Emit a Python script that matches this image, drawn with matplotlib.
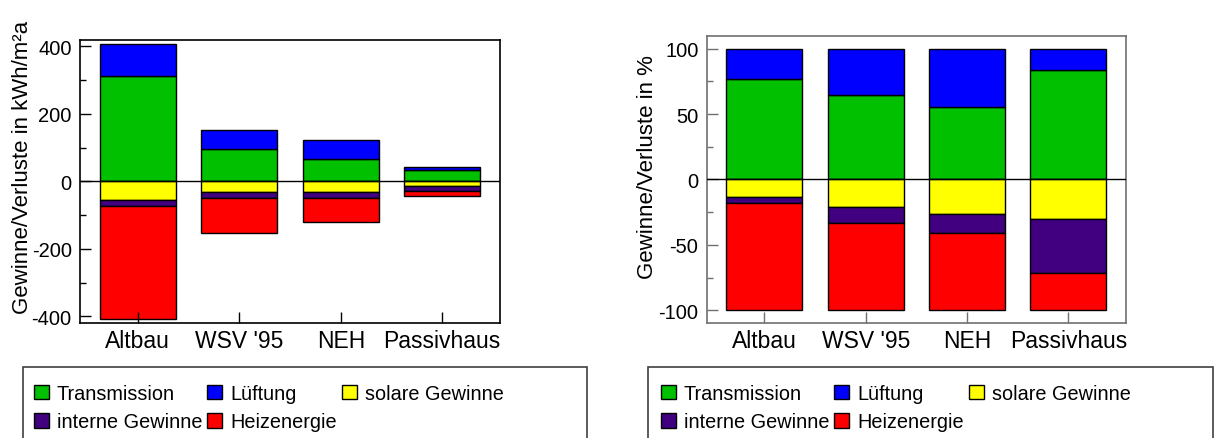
import numpy as np
import matplotlib
matplotlib.use("Agg")
import matplotlib.pyplot as plt
from matplotlib.patches import Rectangle, Patch

plt.rcParams['font.family'] = ['Liberation Sans', 'DejaVu Sans']
plt.rcParams['axes.unicode_minus'] = False

# --------------------------------------------------
# Data
# --------------------------------------------------

categories = ["Altbau", "WSV '95", "NEH", "Passivhaus"]

# absolute values in kWh/m²a (losses positive, gains negative)
transmission = [313, 97, 66, 35]
lueftung = [95, 54, 56, 7]
solar = [-55, -33, -33, -13]
intern = [-17, -17, -17, -17]
heizenergie = [-336, -102, -72, -13]

# shares in %
transmission_pct = [76.8, 64.4, 55.2, 83.5]
lueftung_pct = [23.2, 35.6, 44.8, 16.5]
solar_pct = [-13.2, -21.4, -26.7, -30.5]
intern_pct = [-4.6, -11.9, -14.3, -41.0]
heizenergie_pct = [-82.2, -66.7, -59.0, -28.5]

names = ["Transmission", "Lüftung", "solare Gewinne", "interne Gewinne", "Heizenergie"]
colors = ["#00c000", "#0000ff", "#ffff00", "#400080", "#ff0000"]


# --------------------------------------------------
# Helpers
# --------------------------------------------------

def stacked(ax, pos, neg, edge):
    x = np.arange(len(categories))
    w = 0.75

    bottom = np.zeros(len(x))
    for vals, c in pos:
        ax.bar(x, vals, w, bottom=bottom, color=c, edgecolor="black", lw=1)
        bottom += np.array(vals, dtype=float)

    bottom = np.zeros(len(x))
    for vals, c in neg:
        ax.bar(x, vals, w, bottom=bottom, color=c, edgecolor="black", lw=1)
        bottom += np.array(vals, dtype=float)

    ax.axhline(0, color="black", lw=1, zorder=3)

    ax.set_xticks(x)
    ax.set_xticklabels(categories, fontsize=16.5)
    ax.set_xlim(-0.57, 3.57)

    ax.tick_params(axis="x", direction="in", length=8, width=1, color=edge,
                   pad=4, top=False)
    ax.tick_params(axis="y", which="major", direction="in", length=8, width=1,
                   color=edge, labelsize=14.5, pad=6, right=False)
    ax.tick_params(axis="y", which="minor", direction="in", length=4, width=1,
                   color=edge, right=False)

    for s in ax.spines.values():
        s.set_color(edge)
        s.set_linewidth(1.2)


def legend_box(fig, x0, x1, top, anchor, edge):
    fig.patches.append(Rectangle((x0, -0.1), x1 - x0, top + 0.1,
                                 transform=fig.transFigure, fill=False,
                                 edgecolor=edge, lw=1.2))
    order = [0, 3, 1, 4, 2]
    handles = [Patch(facecolor=colors[i], edgecolor="black", lw=1) for i in order]
    labels = [names[i] for i in order]
    fig.legend(handles, labels, ncol=3, loc="upper left",
               bbox_to_anchor=anchor, frameon=False, fontsize=14.3,
               handlelength=0.75, handleheight=0.75, handletextpad=0.4,
               columnspacing=0.25, labelspacing=0.47, borderpad=0,
               borderaxespad=0)


# --------------------------------------------------
# Figure
# --------------------------------------------------

fig = plt.figure(figsize=(12.2, 4.39), dpi=100)

ax1 = fig.add_axes([0.0656, 0.262, 0.3443, 0.6453])
stacked(ax1,
        [(transmission, colors[0]), (lueftung, colors[1])],
        [(solar, colors[2]), (intern, colors[3]), (heizenergie, colors[4])],
        "black")
ax1.set_ylim(-420, 420)
ax1.set_yticks([400, 200, 0, -200, -400])
ax1.set_yticks([300, 100, -100, -300], minor=True)
ax1.set_ylabel("Gewinne/Verluste in kWh/m²a", fontsize=16)
ax1.yaxis.set_label_coords(-0.113, 0.554)

ax2 = fig.add_axes([0.5793, 0.2613, 0.3437, 0.6551])
stacked(ax2,
        [(transmission_pct, colors[0]), (lueftung_pct, colors[1])],
        [(solar_pct, colors[2]), (intern_pct, colors[3]), (heizenergie_pct, colors[4])],
        "#707070")
ax2.set_ylim(-110, 110)
ax2.set_yticks([100, 50, 0, -50, -100])
ax2.set_yticks([75, 25, -25, -75], minor=True)
ax2.set_ylabel("Gewinne/Verluste in %", fontsize=16)
ax2.yaxis.set_label_coords(-0.117, 0.547)

legend_box(fig, 23 / 1220, 587 / 1220, 1 - 368 / 439,
           (34 / 1220, 1 - 385 / 439), "#404040")
legend_box(fig, 648 / 1220, 1213 / 1220, 1 - 368 / 439,
           (661 / 1220, 1 - 385 / 439), "#404040")

fig.savefig("out.png", dpi=100)
